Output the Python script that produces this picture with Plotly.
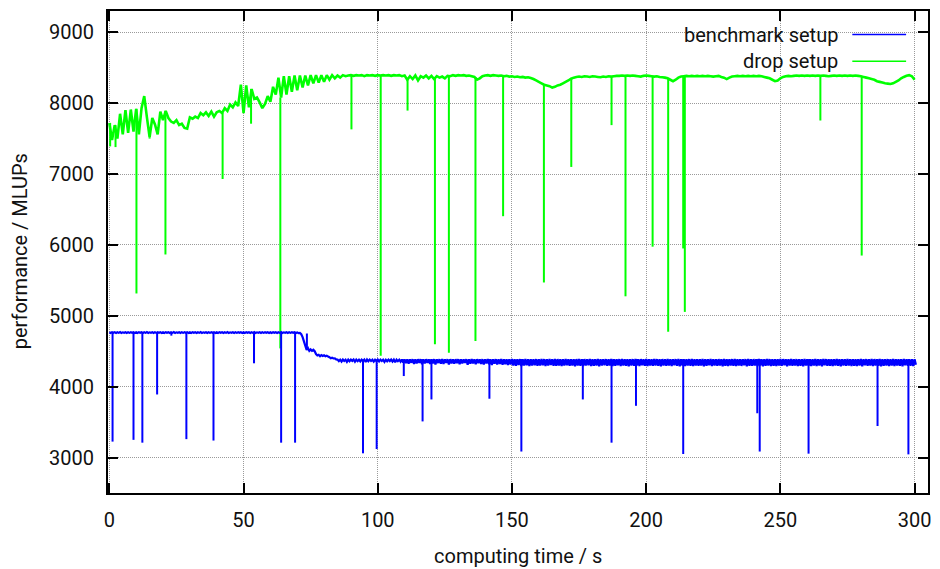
import plotly.graph_objects as go

# ---------------- data ----------------
time_s = list(range(301))  # one reading per second, 0 .. 300 s

# benchmark setup: upper and lower edge of the (noisy) trace in each second
benchmark_upper = [
    4768, 4769, 4767, 4768, 4770, 4767, 4768, 4769, 4768, 4767,  # 0-9
    4768, 4769, 4767, 4768, 4770, 4767, 4768, 4769, 4768, 4767,  # 10-19
    4768, 4769, 4767, 4768, 4770, 4767, 4768, 4769, 4768, 4767,  # 20-29
    4768, 4769, 4767, 4768, 4770, 4767, 4768, 4769, 4768, 4767,  # 30-39
    4768, 4769, 4767, 4768, 4770, 4767, 4768, 4769, 4768, 4767,  # 40-49
    4768, 4769, 4767, 4768, 4770, 4767, 4768, 4769, 4768, 4767,  # 50-59
    4768, 4769, 4767, 4768, 4770, 4767, 4768, 4769, 4768, 4767,  # 60-69
    4766, 4758, 4700, 4580, 4545, 4525, 4520, 4460, 4450, 4445,  # 70-79
    4442, 4438, 4415, 4408, 4400, 4382, 4381, 4383, 4380, 4382,  # 80-89
    4381, 4383, 4382, 4380, 4382, 4381, 4383, 4382, 4380, 4381,  # 90-99
    4383, 4382, 4381, 4380, 4382, 4383, 4381, 4382, 4380, 4384,  # 100-109
    4386, 4387, 4385, 4388, 4386, 4387, 4388, 4386, 4387, 4385,  # 110-119
    4387, 4388, 4386, 4387, 4388, 4386, 4387, 4388, 4386, 4387,  # 120-129
    4388, 4387, 4386, 4388, 4387, 4389, 4386, 4388, 4387, 4388,  # 130-139
    4387, 4389, 4388, 4386, 4388, 4387, 4389, 4388, 4387, 4388,  # 140-149
    4389, 4388, 4387, 4389, 4388, 4390, 4387, 4389, 4388, 4389,  # 150-159
    4388, 4390, 4389, 4387, 4389, 4388, 4390, 4389, 4388, 4389,  # 160-169
    4390, 4388, 4389, 4387, 4389, 4390, 4388, 4389, 4388, 4390,  # 170-179
    4389, 4388, 4390, 4389, 4387, 4389, 4388, 4390, 4389, 4388,  # 180-189
    4389, 4390, 4388, 4389, 4387, 4389, 4390, 4388, 4389, 4388,  # 190-199
    4390, 4389, 4388, 4390, 4389, 4387, 4389, 4388, 4390, 4389,  # 200-209
    4388, 4389, 4390, 4388, 4389, 4387, 4389, 4390, 4388, 4389,  # 210-219
    4388, 4390, 4389, 4388, 4390, 4389, 4387, 4389, 4388, 4390,  # 220-229
    4389, 4388, 4389, 4390, 4388, 4389, 4387, 4389, 4390, 4388,  # 230-239
    4389, 4388, 4390, 4389, 4388, 4390, 4389, 4387, 4389, 4388,  # 240-249
    4390, 4389, 4388, 4389, 4390, 4388, 4389, 4387, 4389, 4390,  # 250-259
    4388, 4389, 4388, 4390, 4389, 4388, 4390, 4389, 4387, 4389,  # 260-269
    4388, 4390, 4389, 4388, 4389, 4390, 4388, 4389, 4387, 4389,  # 270-279
    4390, 4388, 4389, 4388, 4390, 4389, 4388, 4390, 4389, 4387,  # 280-289
    4389, 4388, 4390, 4389, 4388, 4389, 4390, 4388, 4389, 4387,  # 290-299
    4386,                                                        # 300
]

benchmark_lower = [
    4758, 4760, 4757, 4759, 4758, 4761, 4757, 4759, 4760, 4758,  # 0-9
    4758, 4760, 4757, 4759, 4758, 4761, 4757, 4759, 4760, 4758,  # 10-19
    4758, 4760, 4757, 4759, 4758, 4761, 4757, 4759, 4760, 4758,  # 20-29
    4758, 4760, 4757, 4759, 4758, 4761, 4757, 4759, 4760, 4758,  # 30-39
    4758, 4760, 4757, 4759, 4758, 4761, 4757, 4759, 4760, 4758,  # 40-49
    4758, 4760, 4757, 4759, 4758, 4761, 4757, 4759, 4760, 4758,  # 50-59
    4758, 4760, 4757, 4759, 4758, 4761, 4757, 4759, 4760, 4758,  # 60-69
    4755, 4740, 4640, 4520, 4505, 4505, 4500, 4440, 4430, 4432,  # 70-79
    4430, 4425, 4400, 4398, 4385, 4360, 4355, 4362, 4350, 4358,  # 80-89
    4364, 4352, 4360, 4356, 4362, 4348, 4359, 4363, 4354, 4360,  # 90-99
    4357, 4362, 4350, 4358, 4361, 4355, 4346, 4360, 4352, 4340,  # 100-109
    4332, 4325, 4338, 4320, 4330, 4335, 4318, 4328, 4336, 4322,  # 110-119
    4330, 4315, 4334, 4326, 4320, 4337, 4312, 4329, 4324, 4333,  # 120-129
    4318, 4327, 4335, 4310, 4325, 4330, 4316, 4332, 4322, 4312,  # 130-139
    4328, 4318, 4306, 4325, 4314, 4320, 4308, 4316, 4304, 4312,  # 140-149
    4300, 4296, 4305, 4292, 4299, 4303, 4290, 4298, 4302, 4294,  # 150-159
    4297, 4301, 4291, 4299, 4304, 4293, 4296, 4300, 4290, 4298,  # 160-169
    4302, 4294, 4297, 4289, 4300, 4295, 4292, 4299, 4303, 4291,  # 170-179
    4296, 4300, 4288, 4297, 4302, 4293, 4298, 4290, 4295, 4301,  # 180-189
    4292, 4299, 4296, 4289, 4300, 4294, 4297, 4291, 4302, 4295,  # 190-199
    4290, 4298, 4293, 4300, 4296, 4288, 4299, 4294, 4297, 4291,  # 200-209
    4301, 4295, 4289, 4298, 4292, 4300, 4296, 4290, 4297, 4293,  # 210-219
    4299, 4288, 4295, 4301, 4291, 4297, 4294, 4300, 4289, 4296,  # 220-229
    4292, 4299, 4295, 4290, 4298, 4293, 4301, 4289, 4296, 4294,  # 230-239
    4300, 4291, 4297, 4288, 4295, 4299, 4292, 4296, 4290, 4298,  # 240-249
    4294, 4301, 4289, 4297, 4293, 4299, 4291, 4296, 4288, 4300,  # 250-259
    4295, 4290, 4298, 4292, 4297, 4289, 4301, 4294, 4296, 4291,  # 260-269
    4299, 4293, 4288, 4297, 4295, 4300, 4290, 4296, 4292, 4298,  # 270-279
    4289, 4301, 4294, 4297, 4291, 4299, 4293, 4288, 4296, 4300,  # 280-289
    4292, 4297, 4290, 4298, 4295, 4289, 4301, 4293, 4296, 4291,  # 290-299
    4310,                                                        # 300
]

drop_mlups = [
    7720, 7480, 7690, 7500, 7850, 7560, 7900, 7580, 7910, 7600,  # 0-9
    7920, 7560, 7930, 8100, 7800, 7520, 7790, 7700, 7560, 7880,  # 10-19
    7760, 7890, 7790, 7740, 7720, 7760, 7690, 7710, 7650, 7640,  # 20-29
    7800, 7780, 7810, 7790, 7860, 7830, 7870, 7820, 7880, 7810,  # 30-39
    7870, 7890, 7860, 7930, 7890, 7980, 7940, 8010, 7960, 8260,  # 40-49
    7860, 8250, 7940, 8200, 8060, 8080, 8010, 7930, 7990, 8100,  # 50-59
    8020, 8230, 8120, 8360, 8080, 8380, 8120, 8380, 8160, 8390,  # 60-69
    8180, 8390, 8220, 8390, 8250, 8395, 8280, 8395, 8290, 8395,  # 70-79
    8300, 8395, 8330, 8395, 8350, 8390, 8360, 8395, 8380, 8390,  # 80-89
    8395, 8385, 8395, 8390, 8395, 8380, 8395, 8390, 8395, 8385,  # 90-99
    8395, 8390, 8395, 8390, 8395, 8385, 8395, 8390, 8395, 8380,  # 100-109
    8390, 8330, 8380, 8340, 8390, 8320, 8380, 8360, 8390, 8350,  # 110-119
    8385, 8340, 8380, 8360, 8375, 8350, 8385, 8380, 8395, 8385,  # 120-129
    8395, 8390, 8395, 8385, 8390, 8380, 8370, 8330, 8350, 8380,  # 130-139
    8390, 8395, 8385, 8395, 8390, 8385, 8390, 8380, 8385, 8375,  # 140-149
    8380, 8370, 8375, 8365, 8370, 8360, 8365, 8355, 8340, 8320,  # 150-159
    8300, 8280, 8260, 8250, 8240, 8220, 8230, 8250, 8260, 8280,  # 160-169
    8300, 8320, 8345, 8360, 8370, 8375, 8370, 8380, 8375, 8370,  # 170-179
    8380, 8375, 8370, 8365, 8375, 8370, 8380, 8375, 8380, 8385,  # 180-189
    8385, 8390, 8385, 8390, 8385, 8390, 8385, 8380, 8375, 8385,  # 190-199
    8390, 8385, 8380, 8375, 8380, 8370, 8365, 8360, 8350, 8330,  # 200-209
    8310, 8330, 8360, 8375, 8380, 8385, 8380, 8385, 8380, 8385,  # 210-219
    8380, 8385, 8380, 8385, 8380, 8375, 8380, 8385, 8370, 8360,  # 220-229
    8340, 8360, 8375, 8380, 8385, 8380, 8385, 8380, 8385, 8380,  # 230-239
    8385, 8380, 8385, 8380, 8370, 8360, 8350, 8330, 8310, 8320,  # 240-249
    8350, 8370, 8380, 8385, 8380, 8385, 8390, 8385, 8390, 8385,  # 250-259
    8390, 8385, 8390, 8385, 8390, 8385, 8390, 8385, 8380, 8385,  # 260-269
    8390, 8385, 8390, 8385, 8390, 8385, 8390, 8385, 8390, 8385,  # 270-279
    8380, 8370, 8360, 8350, 8340, 8330, 8310, 8300, 8290, 8280,  # 280-289
    8275, 8270, 8280, 8300, 8320, 8350, 8370, 8385, 8395, 8380,  # 290-299
    8330,                                                        # 300
]

# short performance drops (time in s, value in MLUPs)
benchmark_dip_t = [1.2, 9.0, 12.3, 17.8, 23.1, 28.7, 38.8, 53.9, 64.0, 69.2,
                   73.6, 94.5, 99.6, 109.7, 116.7, 120.0, 141.6, 153.5, 176.4,
                   187.1, 196.2, 213.8, 241.4, 242.3, 260.5, 286.2, 297.7]
benchmark_dip_v = [3225, 3250, 3210, 3890, 4720, 3260, 3240, 4330, 3210, 3210,
                   4750, 3060, 3120, 4150, 3510, 3820, 3830, 3085, 3820,
                   3210, 3730, 3050, 3625, 3085, 3055, 3445, 3045]

drop_dip_t = [0.3, 2.3, 10.1, 15.0, 20.9, 42.2, 52.8, 63.7, 90.2, 101.1,
              111.1, 121.3, 126.5, 136.4, 146.7, 161.9, 172.1, 187.1, 192.3,
              202.4, 208.2, 213.8, 214.4, 264.9, 280.3]
drop_dip_v = [7390, 7380, 5315, 7500, 5865, 6930, 7710, 4540, 7630, 4435,
              7895, 4600, 4480, 4645, 6405, 5470, 7100, 7690, 5275,
              5975, 4775, 5950, 5055, 7755, 5850]

x_ticks = [0, 50, 100, 150, 200, 250, 300]
y_ticks = [3000, 4000, 5000, 6000, 7000, 8000, 9000]

series_names = ["benchmark setup", "drop setup"]
series_colors = ["#0000ff", "#00ff00"]


def dip_segments(t, v, dt, dv):
    """vertical strokes from the running level down to each dip value"""
    xs, ys = [], []
    for tt, vv in zip(dt, dv):
        base = v[min(range(len(t)), key=lambda i: abs(t[i] - tt))]
        xs += [tt, tt, None]
        ys += [base, vv, None]
    return xs, ys


# benchmark trace: upper reading at the start of each second, lower reading half-way
bench_x, bench_y = [], []
for t, up, lo in zip(time_s, benchmark_upper, benchmark_lower):
    bench_x += [t, t + 0.5]
    bench_y += [up, lo]

FONT = "Roboto"
FS = 20
TXT = "#111111"

fig = go.Figure()
# drop setup
fig.add_trace(go.Scatter(x=time_s, y=drop_mlups, mode="lines", name=series_names[1],
                         line=dict(color=series_colors[1], width=2.6, simplify=False),
                         showlegend=False))
sx, sy = dip_segments(time_s, drop_mlups, drop_dip_t, drop_dip_v)
fig.add_trace(go.Scatter(x=sx, y=sy, mode="lines", name=series_names[1],
                         line=dict(color=series_colors[1], width=2, simplify=False),
                         showlegend=False))
# benchmark setup
fig.add_trace(go.Scatter(x=bench_x, y=bench_y, mode="lines", name=series_names[0],
                         line=dict(color=series_colors[0], width=2.2, simplify=False),
                         showlegend=False))
sx, sy = dip_segments(time_s, benchmark_upper, benchmark_dip_t, benchmark_dip_v)
fig.add_trace(go.Scatter(x=sx, y=sy, mode="lines", name=series_names[0],
                         line=dict(color=series_colors[0], width=2, simplify=False),
                         showlegend=False))

axis_common = dict(
    showline=True, linecolor="black", linewidth=2, mirror="ticks",
    ticks="inside", ticklen=10, tickwidth=1.5, tickcolor="black",
    showgrid=True, gridcolor="#9a9a9a", gridwidth=1, griddash="1px,1px",
    zeroline=False, tickfont=dict(family=FONT, size=FS, color=TXT),
)

fig.update_layout(
    width=940, height=569,
    margin=dict(l=108, r=9, t=9, b=76),
    paper_bgcolor="white", plot_bgcolor="white",
    xaxis=dict(range=[-0.5, 305], tickvals=x_ticks, ticklabelstandoff=8, **axis_common),
    yaxis=dict(range=[2500, 9300], tickvals=y_ticks, ticklabelstandoff=8, **axis_common),
    font=dict(family=FONT, size=FS, color=TXT),
)

# axis titles
fig.add_annotation(text="computing time / s", xref="paper", yref="paper",
                   x=0.5, y=-0.13, xanchor="center", yanchor="middle",
                   showarrow=False, font=dict(family=FONT, size=FS, color=TXT))
fig.add_annotation(text="performance / MLUPs", xref="paper", yref="paper",
                   x=-0.107, y=0.502, xanchor="center", yanchor="middle", textangle=-90,
                   showarrow=False, font=dict(family=FONT, size=FS, color=TXT))

# key (gnuplot style: text right-aligned, sample to the right, opaque box)
fig.add_shape(type="rect", xref="paper", yref="paper", x0=0.695, x1=0.9854,
              y0=0.874, y1=0.981, fillcolor="white", line=dict(width=0), layer="between")
key_y = [0.951, 0.896]
for name, col, ky in zip(series_names, series_colors, key_y):
    fig.add_annotation(text=name, xref="paper", yref="paper", x=0.8927, y=ky,
                       xanchor="right", yanchor="middle", showarrow=False,
                       font=dict(family=FONT, size=FS, color=TXT))
    fig.add_shape(type="line", xref="paper", yref="paper", x0=0.9077, x1=0.9733,
                  y0=ky, y1=ky, line=dict(color=col, width=1.5))

fig.write_html("out.html")
